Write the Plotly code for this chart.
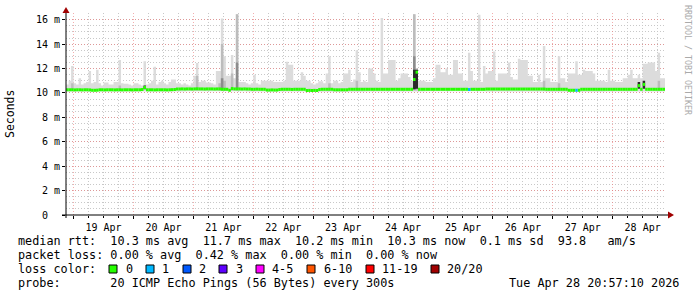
import plotly.graph_objects as go
import pandas as pd

# ---------------- data ----------------
START = "2026-04-18 21:00"          # first hourly bin
X_RANGE = ["2026-04-18 20:57:10", "2026-04-28 20:57:10"]

# upper edge of the smoke (max ping, ms), one value per hour
smoke_max = [
    10.7, 11.0, 12.2, 10.8, 10.7, 11.2, 10.7, 10.8, 10.9, 11.8, 10.8, 10.9, 11.9, 10.8, 10.6, 10.85, 10.85, 10.7, 10.7, 10.9, 10.9, 12.7, 10.8, 10.75,
    10.75, 10.7, 10.6, 10.8, 10.8, 10.7, 10.6, 12.6, 10.7, 10.8, 11.0, 12.15, 10.7, 10.9, 11.0, 10.8, 10.7, 10.9, 11.1, 11.1, 10.8, 10.8, 10.7, 10.8,
    10.7, 10.6, 10.8, 11.4, 12.45, 10.9, 11.0, 11.0, 10.85, 10.85, 10.8, 10.7, 11.8, 11.8, 16.1, 13.0, 11.4, 11.4, 13.1, 11.2, 16.45, 10.9, 10.9, 10.9,
    10.8, 10.7, 10.8, 11.5, 10.8, 10.7, 11.0, 11.0, 11.0, 11.0, 11.0, 10.9, 10.9, 10.9, 10.9, 11.0, 12.55, 12.3, 12.3, 11.0, 11.0, 11.0, 11.7, 11.4,
    11.0, 11.0, 10.8, 10.7, 10.8, 10.95, 10.95, 10.8, 11.6, 13.0, 10.8, 11.0, 11.0, 10.8, 10.9, 11.6, 11.6, 11.9, 10.9, 11.1, 13.5, 11.7, 10.9, 11.0,
    10.9, 12.0, 12.0, 11.6, 11.0, 10.9, 16.15, 11.6, 11.6, 12.7, 12.7, 12.7, 11.0, 11.2, 11.6, 11.6, 11.6, 11.3, 11.0, 16.45, 12.0, 11.0, 11.0, 11.0,
    10.9, 10.9, 10.9, 11.2, 12.3, 12.3, 11.7, 11.7, 12.0, 11.5, 11.5, 12.7, 12.7, 11.6, 11.6, 11.0, 11.0, 13.3, 11.8, 11.0, 11.0, 16.4, 10.9, 12.2,
    11.6, 11.8, 11.8, 13.4, 11.0, 11.6, 11.6, 11.6, 11.6, 12.5, 11.3, 11.1, 11.1, 12.8, 12.7, 12.7, 12.7, 11.4, 11.4, 10.9, 10.9, 11.5, 10.9, 13.85,
    11.2, 11.2, 10.9, 10.9, 10.9, 13.0, 11.2, 11.2, 10.9, 11.6, 11.6, 11.6, 12.6, 11.5, 11.5, 11.9, 11.8, 11.8, 11.8, 11.6, 11.0, 11.0, 11.0, 11.0,
    10.9, 11.9, 11.0, 11.0, 10.9, 10.9, 10.9, 11.2, 11.2, 11.5, 11.9, 11.2, 11.2, 11.5, 11.2, 12.4, 12.4, 12.5, 12.5, 12.5, 11.8, 13.3, 11.2, 11.2,
]

# lower edge of the smoke (min ping, ms), one value per day-row
smoke_floor = [10.12, 10.12, 10.13, 10.12, 10.10, 10.12, 10.13, 10.12, 10.10, 10.12]

# median rtt (ms), one value per hour
median_rtt = [
    10.26, 10.26, 10.26, 10.25, 10.26, 10.26, 10.25, 10.26, 10.26, 10.25, 10.22, 10.22, 10.23, 10.26, 10.26, 10.25, 10.26, 10.26, 10.26, 10.25, 10.26, 10.26, 10.25, 10.26,
    10.26, 10.26, 10.25, 10.26, 10.26, 10.26, 10.28, 10.45, 10.26, 10.26, 10.26, 10.25, 10.26, 10.26, 10.26, 10.26, 10.25, 10.26, 10.27, 10.28, 10.32, 10.32, 10.33, 10.32,
    10.33, 10.33, 10.32, 10.33, 10.34, 10.33, 10.33, 10.32, 10.33, 10.33, 10.33, 10.32, 10.33, 10.33, 10.30, 10.30, 10.30, 10.22, 10.36, 10.33, 10.33, 10.33, 10.32, 10.33,
    10.32, 10.32, 10.30, 10.30, 10.31, 10.30, 10.30, 10.30, 10.24, 10.24, 10.25, 10.24, 10.24, 10.28, 10.30, 10.30, 10.30, 10.30, 10.29, 10.30, 10.30, 10.30, 10.30, 10.30,
    10.20, 10.21, 10.20, 10.21, 10.20, 10.28, 10.30, 10.30, 10.30, 10.30, 10.30, 10.26, 10.26, 10.26, 10.26, 10.26, 10.26, 10.30, 10.30, 10.30, 10.30, 10.30, 10.30, 10.30,
    10.30, 10.30, 10.30, 10.30, 10.30, 10.30, 10.30, 10.30, 10.30, 10.30, 10.30, 10.30, 10.30, 10.30, 10.30, 10.30, 10.30, 10.30, 10.30, 11.10, 11.70, 10.30, 10.30, 10.30,
    10.30, 10.30, 10.30, 10.30, 10.30, 10.30, 10.30, 10.30, 10.30, 10.30, 10.30, 10.30, 10.30, 10.30, 10.30, 10.30, 10.30, 10.28, 10.30, 10.30, 10.30, 10.30, 10.30, 10.30,
    10.32, 10.32, 10.32, 10.32, 10.32, 10.32, 10.32, 10.32, 10.32, 10.32, 10.32, 10.32, 10.32, 10.32, 10.32, 10.32, 10.32, 10.32, 10.32, 10.32, 10.32, 10.32, 10.32, 10.32,
    10.30, 10.30, 10.30, 10.30, 10.30, 10.30, 10.30, 10.30, 10.30, 10.22, 10.22, 10.22, 10.22, 10.22, 10.30, 10.30, 10.30, 10.30, 10.30, 10.30, 10.30, 10.30, 10.30, 10.30,
    10.30, 10.30, 10.30, 10.30, 10.30, 10.30, 10.30, 10.30, 10.30, 10.30, 10.30, 10.30, 10.30, 10.60, 10.30, 10.70, 10.30, 10.30, 10.30, 10.30, 10.30, 10.30, 10.30, 10.30,
]

# hours with lost pings and how many were lost
loss_hours = [161, 204]
loss_counts = [1, 1]

# denser smoke bands (hour index, lower, upper)
mid_hours = [2, 21, 52, 61, 62, 63, 66, 68, 105, 116, 139, 140, 191, 197, 237]
mid_lo = [10.2, 10.2, 10.2, 10.2, 10.2, 10.2, 10.2, 10.2, 10.2, 10.2, 10.2, 10.2, 10.2, 10.2, 10.2]
mid_hi = [10.8, 10.6, 11.4, 10.8, 14.0, 11.0, 11.6, 16.45, 10.8, 11.0, 16.45, 12.0, 11.0, 10.8, 11.0]
dark_hours = [62, 68, 139]
dark_lo = [10.3, 10.3, 10.3]
dark_hi = [11.2, 12.5, 13.0]
black_hours = [31, 139, 140, 229, 231]
black_lo = [10.3, 10.3, 10.35, 10.35, 10.35]
black_hi = [10.6, 11.9, 11.9, 10.9, 11.0]

y_ticks = [0, 2, 4, 6, 8, 10, 12, 14, 16]
y_ticktext = ["", "2 m", "4 m", "6 m", "8 m", "10 m", "12 m", "14 m", "16 m"]
zero_label = "0"

loss_legend = ["0", "1", "2", "3", "4-5", "6-10", "11-19", "20/20"]
loss_legend_colors = ["#26ff00", "#00b8ff", "#0059ff", "#5e00ff", "#ff00ff", "#ff5500", "#ff0000", "#a10000"]

line1 = "median rtt:  10.3 ms avg  11.7 ms max  10.2 ms min  10.3 ms now  0.1 ms sd  93.8   am/s"
line2 = "packet loss: 0.00 % avg  0.42 % max  0.00 % min  0.00 % now"
line3 = "loss color:"
line4 = "probe:       20 ICMP Echo Pings (56 Bytes) every 300s"
stamp = "Tue Apr 28 20:57:10 2026"

# ---------------- layout geometry (pixels) ----------------
W, H = 697, 297
PL, PR, PT, PB = 66, 665, 13, 215
MONO = "DejaVu Sans Mono"


def px(x):
    return (x - PL) / (PR - PL)


def py(y):
    return (PB - y) / (PB - PT)


n = len(smoke_max)
edges = pd.date_range(START, periods=n + 1, freq="h")
floor_h = [smoke_floor[i // 24] for i in range(n)]

fig = go.Figure()
fig.add_trace(go.Scatter(x=edges, y=floor_h + [floor_h[-1]], mode="lines",
                         line=dict(width=0, shape="hv"), hoverinfo="skip"))
fig.add_trace(go.Scatter(x=edges, y=smoke_max + [smoke_max[-1]], mode="lines",
                         line=dict(width=0, shape="hv"), fill="tonexty",
                         fillcolor="#dcdcdc", hoverinfo="skip"))


def band(hours, lo, hi, color):
    xs, ys = [], []
    for h, a, b in zip(hours, lo, hi):
        x0, x1 = edges[h], edges[h + 1]
        xs += [x0, x1, x1, x0, x0, None]
        ys += [a, a, b, b, a, None]
    fig.add_trace(go.Scatter(x=xs, y=ys, mode="lines", fill="toself", fillcolor=color,
                             line=dict(width=0), hoverinfo="skip"))


band(mid_hours, mid_lo, mid_hi, "#bcbcbc")
band(dark_hours, dark_lo, dark_hi, "#8c8c8c")
band(black_hours, black_lo, black_hi, "#2a2a2a")


def segments(hours, color):
    xs, ys = [], []
    for h in hours:
        xs += [edges[h], edges[h + 1], None]
        ys += [median_rtt[h], median_rtt[h], None]
    fig.add_trace(go.Scatter(x=xs, y=ys, mode="lines",
                             line=dict(color=color, width=3), hoverinfo="skip"))


def loss_color(c):
    if c == 0:
        return loss_legend_colors[0]
    if c <= 3:
        return loss_legend_colors[c]
    if c <= 5:
        return loss_legend_colors[4]
    if c <= 10:
        return loss_legend_colors[5]
    if c <= 19:
        return loss_legend_colors[6]
    return loss_legend_colors[7]


segments([h for h in range(n) if h not in loss_hours], loss_legend_colors[0])
for h, c in zip(loss_hours, loss_counts):
    segments([h], loss_color(c))

red_grid = "rgba(235,120,120,0.6)"
grey_grid = "#c8c8c8"

fig.update_layout(
    width=W, height=H,
    margin=dict(l=PL, r=W - PR, t=PT, b=H - PB, pad=0),
    paper_bgcolor="white", plot_bgcolor="white",
    showlegend=False,
    font=dict(family=MONO, size=10, color="black"),
    xaxis=dict(
        type="date", range=X_RANGE, tick0="2026-04-19", dtick=86400000,
        ticklabelmode="period", tickformat="%d %b",
        ticks="outside", ticklen=3, tickcolor="#000",
        showgrid=True, gridcolor=red_grid, griddash="1px,2px", gridwidth=1,
        minor=dict(tick0="2026-04-19", dtick=21600000, showgrid=True, gridcolor=grey_grid,
                   griddash="1px,2px", ticks="outside", ticklen=2, tickcolor="#000"),
        showline=False, zeroline=False, fixedrange=True,
        tickfont=dict(family=MONO, size=10, color="black"),
    ),
    yaxis=dict(
        range=[0, 16.55], tickvals=y_ticks, ticktext=y_ticktext,
        ticks="outside", ticklen=3, tickcolor="#000",
        showgrid=True, gridcolor=red_grid, griddash="1px,2px", gridwidth=1,
        minor=dict(dtick=0.5, showgrid=True, gridcolor=grey_grid, griddash="1px,2px"),
        showline=False, zeroline=False, fixedrange=True,
        tickfont=dict(family=MONO, size=10, color="black"),
    ),
)

shapes = []
# axes with arrow heads
shapes.append(dict(type="line", xref="paper", yref="paper", x0=px(PL), x1=px(PL),
                   y0=py(PB + 3), y1=py(PT), line=dict(color="#000", width=1)))
shapes.append(dict(type="line", xref="paper", yref="paper", x0=px(PL - 4), x1=px(669),
                   y0=0, y1=0, line=dict(color="#000", width=1)))
shapes.append(dict(type="path", xref="paper", yref="paper",
                   path=f"M {px(PL-3.5)} {py(PT)} L {px(PL+3.5)} {py(PT)} L {px(PL)} {py(PT-6)} Z",
                   fillcolor="#a00000", line=dict(width=0)))
shapes.append(dict(type="path", xref="paper", yref="paper",
                   path=f"M {px(668)} {py(PB-3.5)} L {px(668)} {py(PB+3.5)} L {px(674)} {py(PB)} Z",
                   fillcolor="#a00000", line=dict(width=0)))

# loss colour boxes
box_x = [109, 146, 183, 219, 256, 307, 366, 431]
label_x = [124, 160, 197, 234, 270, 322, 380, 445]
for bx, col in zip(box_x, loss_legend_colors):
    shapes.append(dict(type="rect", xref="paper", yref="paper",
                       x0=px(bx), x1=px(bx + 8), y0=py(273), y1=py(265),
                       fillcolor=col, line=dict(color="#000", width=1)))
fig.update_layout(shapes=shapes)

ann = []


def text(x, y, s, anchor="left", size=11.8, color="black", angle=0):
    ann.append(dict(xref="paper", yref="paper", x=px(x), y=py(y), text=s,
                    showarrow=False, xanchor=anchor, yanchor="middle", textangle=angle,
                    font=dict(family=MONO, size=size, color=color)))


text(16, 241, line1)
text(16, 255, line2)
text(16, 269, line3)
text(16, 283, line4)
text(681, 283, stamp, anchor="right")
for lx, lab in zip(label_x, loss_legend):
    text(lx, 269, lab)
# "0" tick label sits in the digit column like rrdtool does
ann.append(dict(xref="paper", yref="y", x=px(45), y=0, text=zero_label, showarrow=False,
                xanchor="center", yanchor="middle",
                font=dict(family=MONO, size=10, color="black")))
ann.append(dict(xref="paper", yref="paper", x=px(10), y=py(114), text="Seconds",
                showarrow=False, xanchor="center", yanchor="middle", textangle=-90,
                font=dict(family=MONO, size=11.5, color="black")))
ann.append(dict(xref="paper", yref="paper", x=px(688), y=py(60), text="RRDTOOL / TOBI OETIKER",
                showarrow=False, xanchor="center", yanchor="middle", textangle=90,
                font=dict(family=MONO, size=8.3, color="#aaaaaa")))
fig.update_layout(annotations=ann)

fig.write_html("out.html")
